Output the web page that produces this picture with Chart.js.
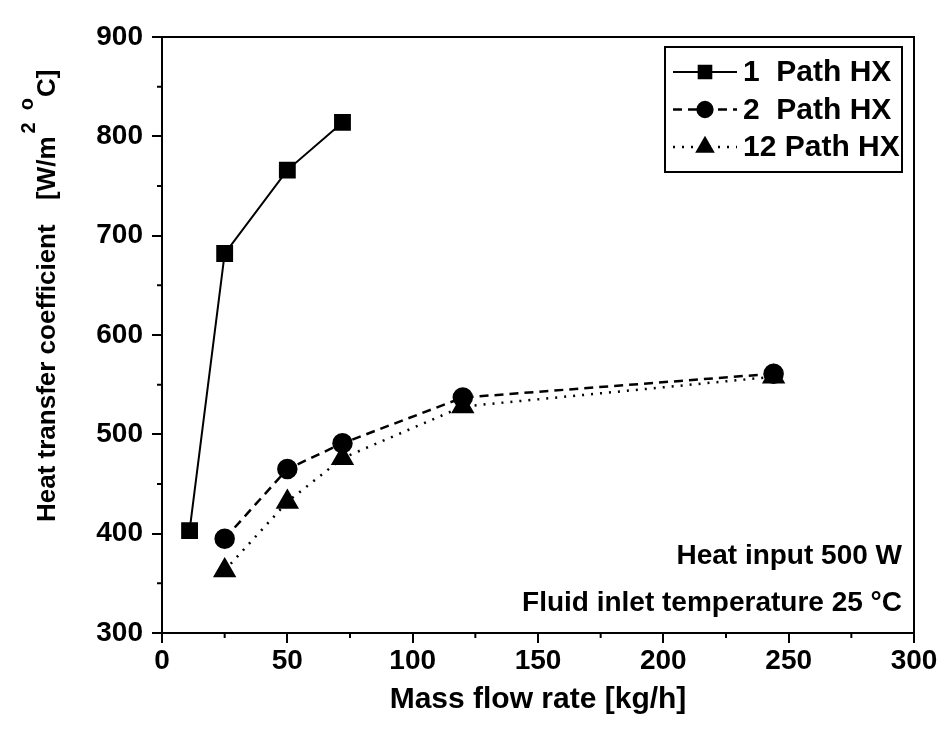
<!DOCTYPE html>
<html lang="en">
<head>
<meta charset="UTF-8">
<title>Heat transfer coefficient vs mass flow rate</title>
<script src="https://cdn.jsdelivr.net/npm/chart.js"></script>
<style>
    body { margin: 0; background: #fff; }
    .chart-container { width: 951px; height: 732px; }
</style>
</head>
<body>
<div class="chart-container"><canvas id="htcChart" width="951" height="732"></canvas></div>
<script>
// data
const seriesNames = ['1  Path HX', '2  Path HX', '12 Path HX'];
const flow1 = [11, 25, 50, 72];
const htc1 = [403, 682, 766, 814];
const flow2 = [25, 50, 72, 120, 244];
const htc2 = [395, 465, 491, 537, 561];
const flow12 = [25, 50, 72, 120, 244];
const htc12 = [363, 432, 476, 528, 558];
const xTicks = [0, 50, 100, 150, 200, 250, 300];
const yTicks = [300, 400, 500, 600, 700, 800, 900];
const notes = ['Heat input 500 W', 'Fluid inlet temperature 25 \u00B0C'];

const FONT = "'Liberation Sans', Arial, sans-serif";
const toPoints = (xs, ys) => xs.map((x, i) => ({ x: x, y: ys[i] }));

// frame, minor ticks, y title with superscripts, notes and legend box
const decorations = {
    id: 'decorations',
    afterDraw(chart) {
        const ctx = chart.ctx;
        const area = chart.chartArea;
        const xs = chart.scales.x, ys = chart.scales.y;
        ctx.save();
        ctx.strokeStyle = '#000';
        ctx.lineWidth = 2;
        ctx.strokeRect(area.left, area.top, area.right - area.left, area.bottom - area.top);

        // minor ticks
        ctx.beginPath();
        for (let i = 0; i < xTicks.length - 1; i++) {
            const px = xs.getPixelForValue((xTicks[i] + xTicks[i + 1]) / 2);
            ctx.moveTo(px, area.bottom);
            ctx.lineTo(px, area.bottom + 5);
        }
        for (let i = 0; i < yTicks.length - 1; i++) {
            const py = ys.getPixelForValue((yTicks[i] + yTicks[i + 1]) / 2);
            ctx.moveTo(area.left, py);
            ctx.lineTo(area.left - 5, py);
        }
        ctx.stroke();

        // y axis title
        ctx.save();
        ctx.translate(48, 522);
        ctx.rotate(-Math.PI / 2);
        ctx.fillStyle = '#000';
        ctx.textAlign = 'left';
        ctx.textBaseline = 'middle';
        ctx.font = 'bold 26px ' + FONT;
        ctx.fillText('Heat transfer coefficient', 0, 0);
        let pos = 322;
        ctx.fillText('[W/m', pos, 0);
        pos += ctx.measureText('[W/m').width + 3;
        ctx.font = 'bold 20px ' + FONT;
        ctx.fillText('2', pos, -19);
        pos += ctx.measureText('2').width + 12;
        ctx.fillText('o', pos, -21);
        pos += ctx.measureText('o').width + 1;
        ctx.font = 'bold 26px ' + FONT;
        ctx.fillText('C]', pos, 0);
        ctx.restore();

        // notes
        ctx.fillStyle = '#000';
        ctx.font = 'bold 28px ' + FONT;
        ctx.textAlign = 'right';
        ctx.textBaseline = 'middle';
        ctx.fillText(notes[0], area.right - 12, 556);
        ctx.fillText(notes[1], area.right - 12, 603);

        // legend
        const bx = area.right - 249, by = area.top + 10, bw = 237, bh = 125;
        ctx.lineWidth = 2;
        ctx.strokeRect(bx, by, bw, bh);
        chart.data.datasets.forEach((ds, i) => {
            const cy = by + 25 + i * 37.5;
            ctx.save();
            ctx.strokeStyle = '#000';
            ctx.lineWidth = ds.borderWidth;
            ctx.setLineDash(ds.borderDash || []);
            ctx.beginPath();
            ctx.moveTo(bx + 8, cy);
            ctx.lineTo(bx + 72, cy);
            ctx.stroke();
            ctx.restore();
            ctx.fillStyle = '#000';
            Chart.helpers.drawPoint(ctx, {
                pointStyle: ds.pointStyle,
                rotation: 0,
                radius: ds.pointRadius * 0.85,
                borderWidth: 1
            }, bx + 40, cy);
            ctx.fillStyle = '#000';
            ctx.font = 'bold 30px ' + FONT;
            ctx.textAlign = 'left';
            ctx.textBaseline = 'middle';
            ctx.fillText(ds.label, bx + 78, cy + 1);
        });
        ctx.restore();
    }
};

const ctx = document.getElementById('htcChart').getContext('2d');
const htcChart = new Chart(ctx, {
    type: 'line',
    data: {
        datasets: [{
            label: seriesNames[0],
            data: toPoints(flow1, htc1),
            borderColor: '#000',
            backgroundColor: '#000',
            borderWidth: 2,
            pointStyle: 'rect',
            pointRadius: 10.5,
            pointBackgroundColor: '#000',
            pointBorderColor: '#000'
        }, {
            label: seriesNames[1],
            data: toPoints(flow2, htc2),
            borderColor: '#000',
            backgroundColor: '#000',
            borderWidth: 2.5,
            borderDash: [9, 6],
            pointStyle: 'circle',
            pointRadius: 9,
            pointBackgroundColor: '#000',
            pointBorderColor: '#000'
        }, {
            label: seriesNames[2],
            data: toPoints(flow12, htc12),
            borderColor: '#000',
            backgroundColor: '#000',
            borderWidth: 2.5,
            borderDash: [2, 7],
            pointStyle: 'triangle',
            pointRadius: 11,
            pointBackgroundColor: '#000',
            pointBorderColor: '#000'
        }]
    },
    options: {
        responsive: false,
        animation: false,
        layout: { padding: { top: 37, right: 37, left: 0, bottom: 0 } },
        plugins: {
            legend: { display: false },
            tooltip: { enabled: false }
        },
        scales: {
            x: {
                type: 'linear',
                min: 0,
                max: 300,
                afterBuildTicks: s => { s.ticks = xTicks.map(v => ({ value: v })); },
                afterFit: s => { s.height = 99; },
                grid: { drawOnChartArea: false, tickLength: 10, color: '#000', lineWidth: 2 },
                border: { color: '#000', width: 2 },
                ticks: { color: '#000', padding: 1, maxRotation: 0, font: { family: FONT, size: 28, weight: 'bold' } },
                title: {
                    display: true,
                    text: 'Mass flow rate [kg/h]',
                    color: '#000',
                    font: { family: FONT, size: 30, weight: 'bold' },
                    padding: { top: 4, bottom: 14 }
                }
            },
            y: {
                min: 300,
                max: 900,
                afterBuildTicks: s => { s.ticks = yTicks.map(v => ({ value: v })); },
                afterFit: s => { s.width = 162; },
                grid: { drawOnChartArea: false, tickLength: 10, color: '#000', lineWidth: 2 },
                border: { color: '#000', width: 2 },
                ticks: { color: '#000', padding: 9, font: { family: FONT, size: 28, weight: 'bold' } }
            }
        }
    },
    plugins: [decorations]
});
</script>
</body>
</html>
